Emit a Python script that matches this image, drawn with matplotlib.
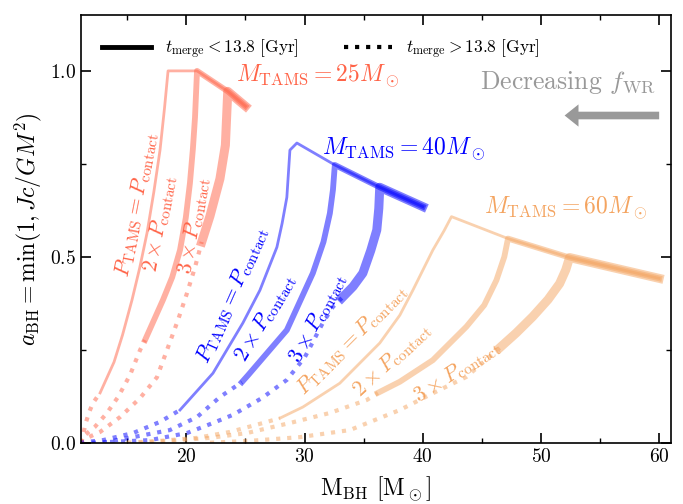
import numpy as np
import matplotlib
matplotlib.use('Agg')
import matplotlib.pyplot as plt
from matplotlib.lines import Line2D
from matplotlib.ticker import MultipleLocator

plt.rcParams['mathtext.fontset'] = 'cm'
plt.rcParams['font.family'] = 'serif'
plt.rcParams['font.serif'] = ['cmr10']
plt.rcParams['axes.formatter.use_mathtext'] = True

# ---- data ----
masses = [25, 40, 60]
colors = ['tomato', 'blue', 'sandybrown']

# envelope (descending branch after the peak), one per mass
env_x = {25: [20.9, 23.5, 25.0],
         40: [29.35, 32.56, 36.36, 40.0],
         60: [42.43, 47.21, 52.42, 60.0]}
env_y = {25: [1.0, 0.945, 0.905],
         40: [0.806, 0.747, 0.687, 0.635],
         60: [0.608, 0.549, 0.498, 0.442]}
# envelope point where each curve (1x, 2x, 3x P_contact) joins
join = {25: [0, 0, 1], 40: [0, 1, 2], 60: [0, 1, 2]}

# rising branches: dotted (t_merge > 13.8 Gyr) and solid (t_merge < 13.8 Gyr)
# key = (mass, P_TAMS / P_contact)
dot_x = {(25, 1): [11.1, 11.26, 11.43, 11.77, 12.1, 12.7],
         (25, 2): [10.9, 11.43, 12.27, 13.26, 14.24, 15.23, 16.08, 16.5],
         (25, 3): [11.0, 11.6, 12.7, 14.39, 16.08, 17.51, 18.45, 19.29, 20.05, 20.73, 21.3],
         (40, 1): [11.0, 12.95, 15.49, 17.77, 19.46],
         (40, 2): [12.0, 13.3, 15.5, 18.6, 20.9, 22.84, 24.7],
         (40, 3): [13.54, 16.92, 20.05, 22.25, 23.94, 26.39, 28.5, 30.02, 31.54, 32.39, 33.15],
         (60, 1): [15.0, 17.77, 20.9, 23.69, 26.48, 27.91],
         (60, 2): [16.0, 18.6, 21.99, 25.12, 28.76, 32.14, 35.27, 36.2],
         (60, 3): [22.0, 25.38, 29.6, 33.83, 38.06, 40.85, 43.69, 46.5]}
dot_y = {(25, 1): [0.0, 0.018, 0.047, 0.082, 0.107, 0.134],
         (25, 2): [0.0, 0.021, 0.043, 0.079, 0.124, 0.182, 0.249, 0.276],
         (25, 3): [0.0, 0.013, 0.029, 0.069, 0.120, 0.176, 0.257, 0.330, 0.402, 0.472, 0.54],
         (40, 1): [0.0, 0.007, 0.026, 0.056, 0.088],
         (40, 2): [0.0, 0.002, 0.015, 0.034, 0.069, 0.123, 0.163],
         (40, 3): [0.002, 0.007, 0.026, 0.053, 0.075, 0.120, 0.169, 0.230, 0.322, 0.365, 0.389],
         (60, 1): [0.0, 0.005, 0.013, 0.029, 0.053, 0.066],
         (60, 2): [0.0, 0.005, 0.013, 0.026, 0.053, 0.080, 0.115, 0.134],
         (60, 3): [0.0, 0.005, 0.015, 0.034, 0.088, 0.133, 0.177, 0.255]}
sol_x = {(25, 1): [12.7, 13.88, 14.6, 15.4, 16.05, 16.67, 17.25, 17.77, 18.15, 18.45],
         (25, 2): [16.5, 18.02, 18.8, 19.46, 19.95, 20.3, 20.55, 20.73],
         (25, 3): [21.3, 22.0, 22.84, 23.3],
         (40, 1): [19.46, 22.25, 24.78, 26.22, 27.66, 28.1, 28.5, 28.76],
         (40, 2): [24.7, 25.23, 28.5, 30.7, 31.6, 32.14, 32.4],
         (40, 3): [33.15, 34.1, 34.93, 35.6, 36.11, 36.28],
         (60, 1): [27.91, 29.86, 32.98, 36.36, 38.06, 39.16, 40.85, 41.8],
         (60, 2): [36.2, 38.06, 40.85, 43.69, 45.2, 46.23, 46.9],
         (60, 3): [46.5, 47.9, 49.3, 50.6, 51.58, 52.1]}
sol_y = {(25, 1): [0.134, 0.217, 0.29, 0.384, 0.47, 0.564, 0.675, 0.787, 0.90, 1.0],
         (25, 2): [0.276, 0.384, 0.445, 0.518, 0.605, 0.698, 0.79, 0.875],
         (25, 3): [0.54, 0.61, 0.71, 0.80],
         (40, 1): [0.088, 0.187, 0.322, 0.410, 0.526, 0.59, 0.660, 0.787],
         (40, 2): [0.163, 0.182, 0.303, 0.456, 0.54, 0.617, 0.68],
         (40, 3): [0.389, 0.42, 0.456, 0.517, 0.572, 0.63],
         (60, 1): [0.066, 0.096, 0.160, 0.268, 0.343, 0.410, 0.518, 0.57],
         (60, 2): [0.134, 0.164, 0.222, 0.312, 0.37, 0.437, 0.50],
         (60, 3): [0.255, 0.295, 0.339, 0.385, 0.428, 0.465]}

widths = [2.0, 4.2, 6.5]

fig = plt.figure(figsize=(6.83, 5.04), dpi=100)
ax = fig.add_axes([0.118, 0.1216, 0.8644, 0.8484])

for m, c in zip(masses, colors):
    for k in [1, 2, 3]:
        ax.plot(dot_x[(m, k)], dot_y[(m, k)], ls=':', lw=3, color=c, alpha=0.5)
        j = join[m][k - 1]
        xs = sol_x[(m, k)] + env_x[m][j:]
        ys = sol_y[(m, k)] + env_y[m][j:]
        ax.plot(xs, ys, ls='-', lw=widths[k - 1], color=c, alpha=0.5)

# mass labels
ax.text(24.2, 0.985, r'$M_{\rm TAMS}=25M_\odot$', color='tomato', fontsize=17, ha='left', va='center')
ax.text(31.45, 0.79, r'$M_{\rm TAMS}=40M_\odot$', color='blue', fontsize=17, ha='left', va='center')
ax.text(45.15, 0.63, r'$M_{\rm TAMS}=60M_\odot$', color='sandybrown', fontsize=17, ha='left', va='center')

# curve labels
lab1 = r'$P_{\rm TAMS}=P_{\rm contact}$'
lab2 = r'$2\times P_{\rm contact}$'
lab3 = r'$3\times P_{\rm contact}$'
curve_labels = [(15.84, 0.641, 79, lab1, 'tomato'), (17.77, 0.59, 79, lab2, 'tomato'),
                (20.64, 0.585, 80, lab3, 'tomato'),
                (23.94, 0.397, 66, lab1, 'blue'), (26.73, 0.335, 59, lab2, 'blue'),
                (31.12, 0.335, 62, lab3, 'blue'),
                (34.0, 0.276, 45, lab1, 'sandybrown'), (37.38, 0.222, 43, lab2, 'sandybrown'),
                (42.87, 0.19, 33, lab3, 'sandybrown')]
for x, y, r, s, c in curve_labels:
    ax.text(x, y, s, rotation=r, rotation_mode='anchor', ha='center', va='center',
            color=c, fontsize=15.5)

# f_WR arrow
ax.annotate('', xy=(52.0, 0.88), xytext=(60.0, 0.88),
            arrowprops=dict(facecolor='#999999', edgecolor='none', width=5.5,
                            headwidth=16, headlength=10, shrink=0))
ax.text(59.7, 0.97, r'Decreasing $f_{\rm WR}$', color='#999999', fontsize=18.5,
        ha='right', va='center')

handles = [Line2D([], [], color='k', lw=3.5, ls='-'),
           Line2D([], [], color='k', lw=3, ls=':')]
ax.legend(handles, [r'$t_{\rm merge}{<}13.8\ [{\rm Gyr}]$', r'$t_{\rm merge}{>}13.8\ [{\rm Gyr}]$'],
          loc='upper left', bbox_to_anchor=(0.01, 0.985), ncol=2, frameon=False,
          fontsize=12.5, handlelength=2.8, columnspacing=2.6)

ax.set_xlim(11.05, 61.0)
ax.set_ylim(0, 1.15)
ax.xaxis.set_major_locator(MultipleLocator(10))
ax.xaxis.set_minor_locator(MultipleLocator(5))
ax.yaxis.set_major_locator(MultipleLocator(0.5))
ax.yaxis.set_minor_locator(MultipleLocator(0.25))
ax.tick_params(which='both', direction='in', top=True, right=True, labelsize=14)
ax.tick_params(which='major', length=7, width=1.2)
ax.tick_params(which='minor', length=3.5, width=1)
for sp in ax.spines.values():
    sp.set_linewidth(1.2)

ax.set_xlabel(r'M$_{\rm BH}$ [M$_\odot$]', fontsize=17, labelpad=6)
ax.set_ylabel(r'$a_{\rm BH}=\min(1,Jc/GM^2)$', fontsize=17)

fig.savefig('out.png', dpi=100)
